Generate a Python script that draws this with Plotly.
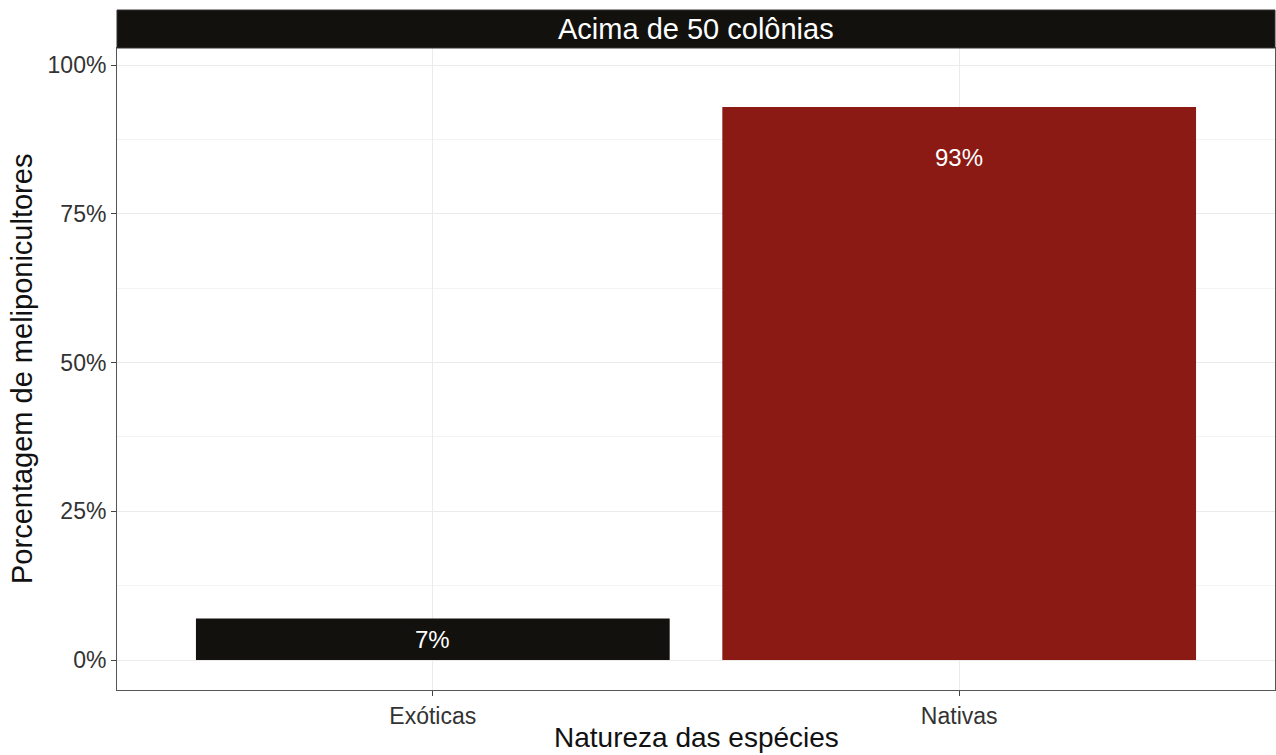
import plotly.graph_objects as go

categories = ["Exóticas", "Nativas"]
values = [7, 93]
labels = ["7%", "93%"]
bar_colors = ["#12110d", "#8b1914"]
tick_vals = [0, 25, 50, 75, 100]
tick_text = ["0%", "25%", "50%", "75%", "100%"]
strip_title = "Acima de 50 colônias"
x_title = "Natureza das espécies"
y_title = "Porcentagem de meliponicultores"

FONT = "Liberation Sans, Arial, sans-serif"
L, R, T, B = 117, 1, 48, 65
W, H = 1276, 755
PW, PH = W - L - R, H - T - B

fig = go.Figure()
fig.add_trace(go.Bar(
    x=categories, y=values, width=0.9,
    marker=dict(color=bar_colors, line=dict(width=0)),
    hoverinfo="skip", showlegend=False,
))

for c, v, t in zip(categories, values, labels):
    fig.add_annotation(x=c, y=max(v - 8.5, v / 2), text=t, showarrow=False,
                       font=dict(family=FONT, size=24, color="white"),
                       xref="x", yref="y")

# strip
fig.add_shape(type="rect", xref="paper", yref="paper", x0=0, x1=1,
              y0=1.0, y1=1 + 38 / PH, fillcolor="#12110d",
              line=dict(color="#333333", width=1), layer="above")
fig.add_annotation(xref="paper", yref="paper", x=0.5, y=1 + 19 / PH,
                   text=strip_title, showarrow=False, yanchor="middle",
                   font=dict(family=FONT, size=29, color="white"))

# axis titles
fig.add_annotation(xref="paper", yref="paper", x=0.5, y=-(737 - (H - B)) / PH,
                   text=x_title, showarrow=False, yanchor="middle", xanchor="center",
                   font=dict(family=FONT, size=28, color="#111111"))
fig.add_annotation(xref="paper", yref="paper", x=(22 - L) / PW, y=0.5,
                   text=y_title, showarrow=False, textangle=-90,
                   yanchor="middle", xanchor="center",
                   font=dict(family=FONT, size=29, color="#111111"))

fig.update_layout(
    width=W, height=H,
    margin=dict(l=L, r=R, t=T, b=B, autoexpand=False),
    paper_bgcolor="white", plot_bgcolor="white",
    font=dict(family=FONT),
    bargap=0.1,
    xaxis=dict(
        range=[-0.6, 1.6], showgrid=True, gridcolor="#ebebeb", gridwidth=1,
        ticks="outside", ticklen=5, tickcolor="#444444",
        tickfont=dict(family=FONT, size=23, color="#333333"),
        automargin=False,
        showline=True, linecolor="#555555", linewidth=1, mirror=True, zeroline=False,
    ),
    yaxis=dict(
        range=[-5.04, 102.9], tickvals=tick_vals, ticktext=tick_text,
        showgrid=True, gridcolor="#ebebeb", gridwidth=1,
        minor=dict(tickvals=[12.5, 37.5, 62.5, 87.5], showgrid=True,
                   gridcolor="#f4f4f4", gridwidth=1, ticks=""),
        ticks="outside", ticklen=5, tickcolor="#444444",
        tickfont=dict(family=FONT, size=23, color="#333333"),
        automargin=False,
        showline=True, linecolor="#555555", linewidth=1, mirror=True, zeroline=False,
    ),
)

fig.write_html("out.html", config={"displayModeBar": False},
               post_script="document.body.style.margin='0';document.body.style.overflow='hidden';")
